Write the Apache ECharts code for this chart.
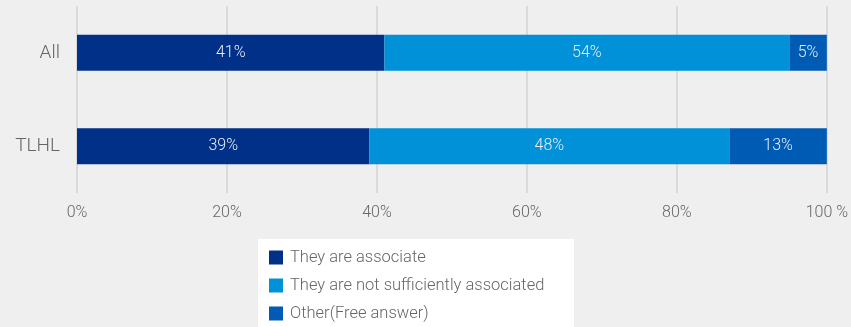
<!DOCTYPE html>
<html>
<head>
<meta charset="utf-8">
<script src="https://cdn.jsdelivr.net/npm/echarts@6/dist/echarts.min.js"></script>
<style>
  html, body { margin: 0; padding: 0; background: #efefef; }
  #chart { width: 851px; height: 327px; }
</style>
</head>
<body>
<div id="chart"></div>
<script>
// Survey groups (top to bottom) and answer shares in percent
const categories = ['All', 'TLHL'];
const associated = [41, 39];
const notSufficient = [54, 48];
const otherAnswer = [5, 13];
const seriesNames = ['They are associate', 'They are not sufficiently associated', 'Other(Free answer)'];
const colors = ['#003087', '#0091d9', '#005bb5'];

const FONT = 'Roboto, "Liberation Sans", sans-serif';

function barSeries(name, values, color) {
  return {
    name: name,
    type: 'bar',
    stack: 'total',
    barWidth: 36,
    data: values,
    itemStyle: { color: color },
    label: {
      show: true,
      position: 'inside',
      formatter: '{c}%',
      color: '#e8eef8',
      fontFamily: FONT,
      fontWeight: 300,
      fontSize: 16
    }
  };
}

const chart = echarts.init(document.getElementById('chart'));
chart.setOption({
  backgroundColor: '#efefef',
  animation: false,
  graphic: [{
    type: 'rect',
    shape: { x: 258, y: 239, width: 316, height: 90 },
    style: { fill: '#ffffff' },
    z: -1
  }],
  grid: { left: 77, right: 24, top: 6, bottom: 134, containLabel: false },
  xAxis: {
    type: 'value',
    min: 0,
    max: 100,
    interval: 20,
    axisLine: { show: false },
    axisTick: { show: false },
    splitLine: { show: true, lineStyle: { color: '#dadada', width: 2 } },
    axisLabel: {
      formatter: v => (v === 100 ? '100 %' : v + '%'),
      color: '#666666',
      fontFamily: FONT,
      fontWeight: 300,
      fontSize: 16,
      margin: 12
    }
  },
  yAxis: {
    type: 'category',
    data: categories,
    inverse: true,
    axisLine: { show: false },
    axisTick: { show: false },
    axisLabel: {
      color: '#666666',
      fontFamily: FONT,
      fontWeight: 300,
      fontSize: 19,
      margin: 17
    }
  },
  legend: {
    orient: 'vertical',
    left: 269,
    top: 249,
    height: 80,
    padding: 0,
    itemWidth: 14,
    itemHeight: 14,
    itemGap: 11,
    icon: 'rect',
    data: seriesNames,
    textStyle: {
      color: '#666666',
      fontFamily: FONT,
      fontWeight: 300,
      fontSize: 16.5,
      lineHeight: 17,
      padding: [0, 0, 0, 2]
    }
  },
  series: [
    barSeries(seriesNames[0], associated, colors[0]),
    barSeries(seriesNames[1], notSufficient, colors[1]),
    barSeries(seriesNames[2], otherAnswer, colors[2])
  ]
});
</script>
</body>
</html>
